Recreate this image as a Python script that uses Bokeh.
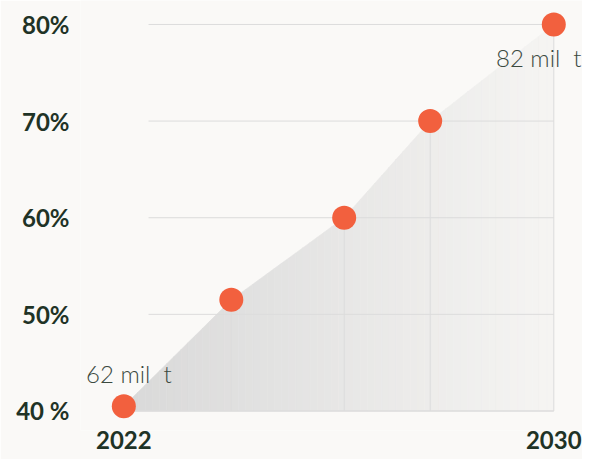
import numpy as np
from bokeh.plotting import figure
from bokeh.models import Range1d, FixedTicker, ColumnDataSource
from bokeh.core.properties import value
from bokeh.embed import file_html
from bokeh.resources import INLINE

# ---- data ----
years = [2022, 2024, 2026.1, 2027.7, 2030]
shares = [40.5, 51.5, 60, 70, 80]
y_ticks = [40, 50, 60, 70, 80]
y_tick_labels = ["40 %", "50%", "60%", "70%", "80%"]
x_ticks = [2022, 2030]
x_tick_labels = ["2022", "2030"]
grid_levels = [50, 60, 70, 80]
start_label = "62 mil\u00a0 t"
end_label = "82 mil\u00a0 t"

BG = "#faf9f7"
GRID = "#dcdcdc"
DOT = "#f2603e"
LABEL = "#1f3326"
TXT = "#3b4a3f"

p = figure(width=582, height=459, output_backend="svg", toolbar_location=None,
           x_range=Range1d(2021.194, 2030.534), y_range=Range1d(37.98, 82.48),
           min_border_left=80, min_border_right=0, min_border_top=0, min_border_bottom=29)
p.background_fill_color = BG
p.border_fill_color = BG
p.outline_line_color = None
p.xgrid.visible = False
p.ygrid.visible = False

# axes
for ax in (p.xaxis[0], p.yaxis[0]):
    ax.axis_line_color = None
    ax.major_tick_line_color = None
    ax.minor_tick_line_color = None
    ax.major_tick_out = 0
    ax.major_tick_in = 0
    ax.major_label_text_font = "Lato"
    ax.major_label_text_font_style = "bold"
    ax.major_label_text_font_size = "24px"
    ax.major_label_text_color = LABEL
p.yaxis[0].ticker = FixedTicker(ticks=y_ticks)
p.yaxis[0].major_label_overrides = {t: l for t, l in zip(y_ticks, y_tick_labels)}
p.yaxis[0].major_label_standoff = 11
p.xaxis[0].ticker = FixedTicker(ticks=x_ticks)
p.xaxis[0].major_label_overrides = {t: l for t, l in zip(x_ticks, x_tick_labels)}
p.xaxis[0].major_label_standoff = 0

# gradient area (vertical strips)
N = 60
edges = np.linspace(years[0], years[-1], N + 1)
tops = np.interp(edges, years, shares)
c0 = np.array([217, 217, 217])
c1 = np.array([246, 245, 243])
xs, ys, cols = [], [], []
for i in range(N):
    xs.append([edges[i], edges[i + 1], edges[i + 1], edges[i]])
    ys.append([y_ticks[0], y_ticks[0], tops[i + 1], tops[i]])
    t = (i + 0.5) / N
    c = (c0 + (c1 - c0) * t).astype(int)
    cols.append("#%02x%02x%02x" % tuple(c))
p.patches(xs=xs, ys=ys, fill_color=cols, line_color=cols, line_width=0.6)

# horizontal grid lines
grid_start = years[0] + 0.46
p.segment(x0=[grid_start] * len(grid_levels), x1=[years[-1]] * len(grid_levels),
          y0=grid_levels, y1=grid_levels, line_color=GRID, line_width=1)
p.segment(x0=[years[0]], x1=[years[-1]], y0=[y_ticks[0]], y1=[y_ticks[0]],
          line_color=GRID, line_width=1.5)
# vertical drop lines
p.segment(x0=years, x1=years, y0=[y_ticks[0]] * len(years), y1=shares,
          line_color=GRID, line_width=1)

# dots
src = ColumnDataSource(dict(x=years, y=shares))
p.scatter("x", "y", source=src, size=24, fill_color=DOT, line_color=None)

# labels
p.text(x=[years[0]], y=[shares[0]], text=[start_label], x_offset=5, y_offset=-33,
       text_align="center", text_baseline="alphabetic",
       text_font=value("Lato Light"), text_font_size="24px", text_color=TXT)
p.text(x=[years[-1]], y=[shares[-1]], text=[end_label], x_offset=-15, y_offset=33,
       text_align="center", text_baseline="alphabetic",
       text_font=value("Lato Light"), text_font_size="24px", text_color=TXT)

open("out.html", "w").write(file_html(p, INLINE))
